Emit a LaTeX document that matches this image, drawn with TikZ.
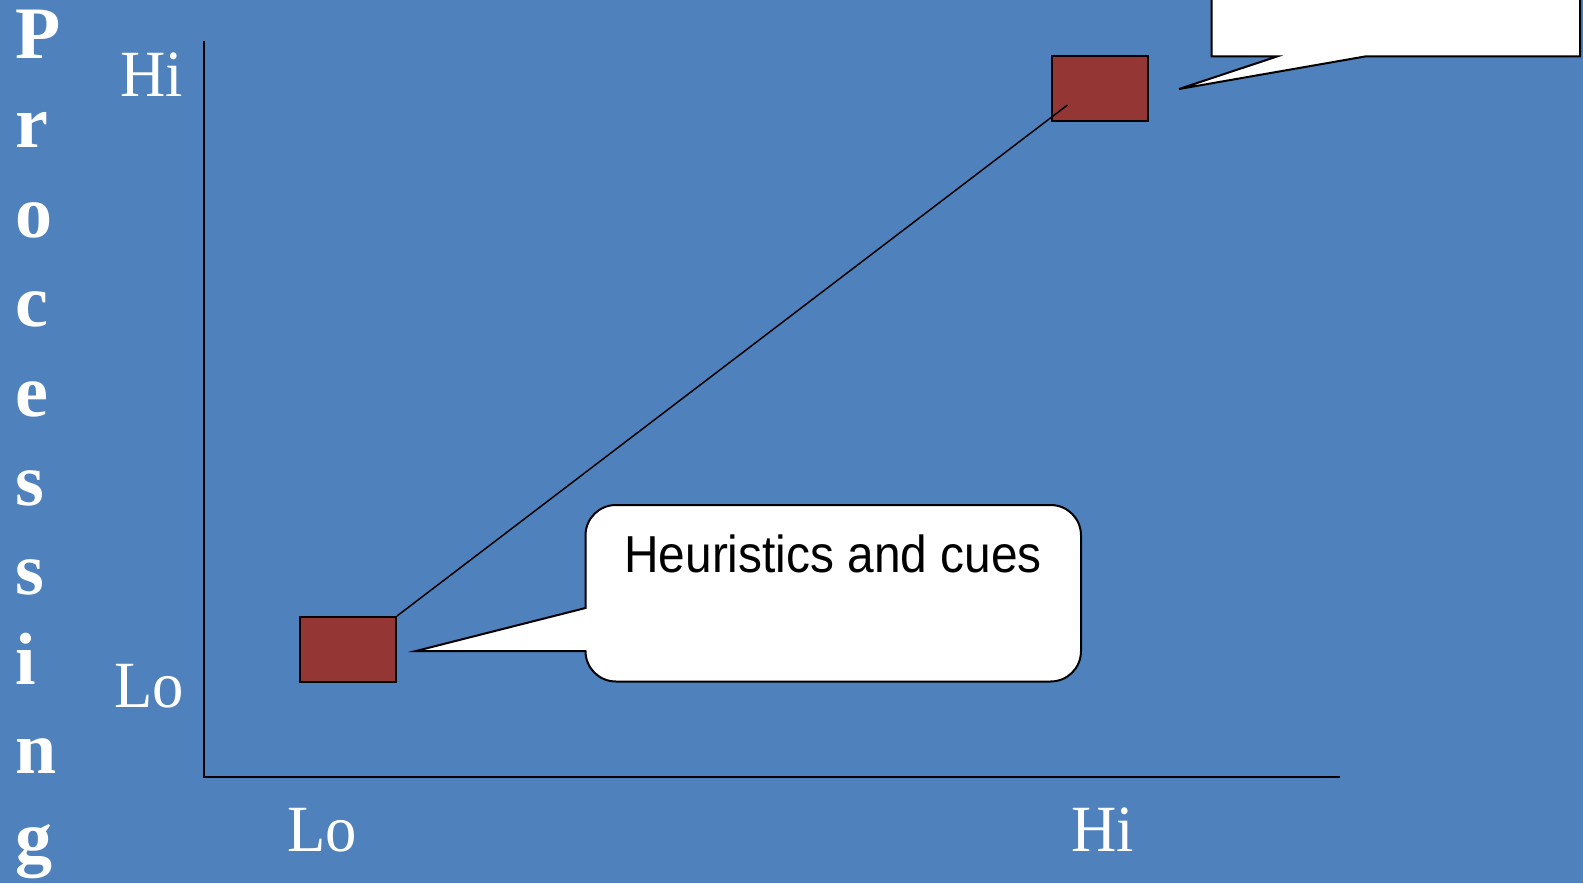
\documentclass[tikz,border=0pt]{standalone}
\usepackage{fontspec}
\usepackage{graphicx}
\setmainfont{Liberation Serif}
\newfontfamily\arialfont{Liberation Sans}
\definecolor{bgblue}{HTML}{4F81BD}
\definecolor{boxred}{HTML}{943634}
\tikzset{
  pxgrid/.style={x=0.5pt,y=-0.5pt},
  redbox/.style={draw=black,line width=1pt,fill=boxred,minimum width=48pt,minimum height=32.25pt,inner sep=0pt},
  axisline/.style={draw=black,line width=1pt},
  linkline/.style={draw=black,line width=0.75pt},
  callout/.style={draw=black,line width=1pt,fill=white,line join=miter},
  ticklabel/.style={text=white,font=\fontsize{33}{33}\selectfont,anchor=base,inner sep=0pt},
  vletter/.style={text=white,font=\fontsize{37}{37}\selectfont\bfseries,anchor=base west,inner sep=0pt},
  calltext/.style={text=black,font=\arialfont\fontsize{26}{26}\selectfont,anchor=base,inner sep=0pt}
}
\begin{document}
\begin{tikzpicture}[pxgrid]
\useasboundingbox (0,0) rectangle (1583,883);
\clip (0,0) rectangle (1583,883);
\fill[bgblue] (0,0) rectangle (1583,883);

% vertical title letters
\foreach \ch [count=\k from 0] in {P,r,o,c,e,s,s,i,n,g}{
  \node[vletter] (let\k) at (15,{58.6+89.35*\k}) {\ch};
}

% axes
\coordinate (ytop) at (204,41);
\coordinate (origin) at (204,777);
\coordinate (xend) at (1340,777);
\draw[axisline] (ytop) -- (origin) -- (xend);

% tick labels
\node[ticklabel] (yhi) at (152,97) {\scalebox{0.95}[1]{Hi}};
\node[ticklabel] (ylo) at (149,707) {\scalebox{0.95}[1]{Lo}};
\node[ticklabel] (xlo) at (322,851) {\scalebox{0.95}[1]{Lo}};
\node[ticklabel] (xhi) at (1103,851) {\scalebox{0.95}[1]{Hi}};

% upper callout (mostly off the top)
\draw[callout] (1580,56.5) -- (1365,56.5) -- (1179,89) -- (1277,56.5) -- (1211.5,56.5)
  -- (1211.5,-20) -- (1580,-20) -- cycle;

% lower callout
\draw[callout] (416,651) -- (585.5,651)
  .. controls (585.5,668) and (599,681.5) .. (616,681.5)
  -- (1050.5,681.5)
  .. controls (1067.5,681.5) and (1081,668) .. (1081,651)
  -- (1081,535.5)
  .. controls (1081,518.5) and (1067.5,505) .. (1050.5,505)
  -- (616,505)
  .. controls (599,505) and (585.5,518.5) .. (585.5,535.5)
  -- (585.5,608) -- cycle;
\node[calltext] (heur) at (833,572.5) {\scalebox{0.92}[1]{Heuristics and cues}};

% red boxes
\node[redbox] (lowbox) at (348,649.25) {};
\node[redbox] (highbox) at (1100,88.75) {};
\coordinate (hiend) at (1067.5,105);
\draw[linkline] (lowbox.north east) -- (hiend);
\end{tikzpicture}
\end{document}
